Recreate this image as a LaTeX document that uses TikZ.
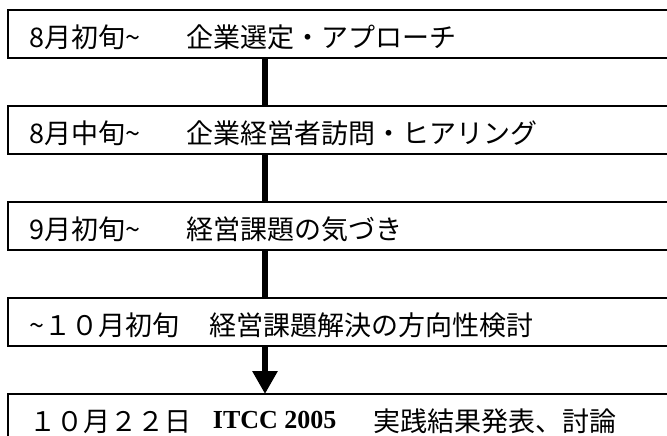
\documentclass[tikz,border=0pt]{standalone}
\usepackage{fontspec}
\setmainfont{Noto Sans CJK JP}
\newfontfamily\latinserif{Liberation Serif}
\usetikzlibrary{arrows.meta}
\begin{document}
\begin{tikzpicture}[x=1pt,y=-1pt,
  stagebox/.style={draw=black, line width=2pt, fill=white, outer sep=0pt,
    inner xsep=22pt, inner ysep=0pt, minimum height=48pt,
    text height=27pt, text depth=0pt, anchor=north west,
    font=\fontsize{27}{27}\selectfont},
  link/.style={line width=6pt, draw=black}]
\path[use as bounding box] (0,0) rectangle (667,436);
\clip (0,0) rectangle (667,436);
\node[stagebox] (b1) at (8,10) {\makebox[700pt][l]{\makebox[157pt][l]{8月初旬\textasciitilde}企業選定・アプローチ}};
\node[stagebox] (b2) at (8,106) {\makebox[700pt][l]{\makebox[157pt][l]{8月中旬\textasciitilde}企業経営者訪問・ヒアリング}};
\node[stagebox] (b3) at (8,202) {\makebox[700pt][l]{\makebox[157pt][l]{9月初旬\textasciitilde}経営課題の気づき}};
\node[stagebox] (b4) at (8,298) {\makebox[700pt][l]{\makebox[180pt][l]{\textasciitilde１０月初旬}経営課題解決の方向性検討}};
\node[stagebox] (b5) at (8,394) {\makebox[700pt][l]{\makebox[183pt][l]{１０月２２日}\makebox[161pt][l]{\raisebox{3pt}{\latinserif\bfseries\fontsize{26}{26}\selectfont ITCC 2005}}実践結果発表、討論}};
\coordinate (cx) at (265,0);
\draw[link] (b1.south -| cx) -- (b2.north -| cx);
\draw[link] (b2.south -| cx) -- (b3.north -| cx);
\draw[link] (b3.south -| cx) -- (b4.north -| cx);
\draw[link, -{Triangle[width=24pt,length=23pt]}] (b4.south -| cx) -- (b5.north -| cx);
\end{tikzpicture}
\end{document}
